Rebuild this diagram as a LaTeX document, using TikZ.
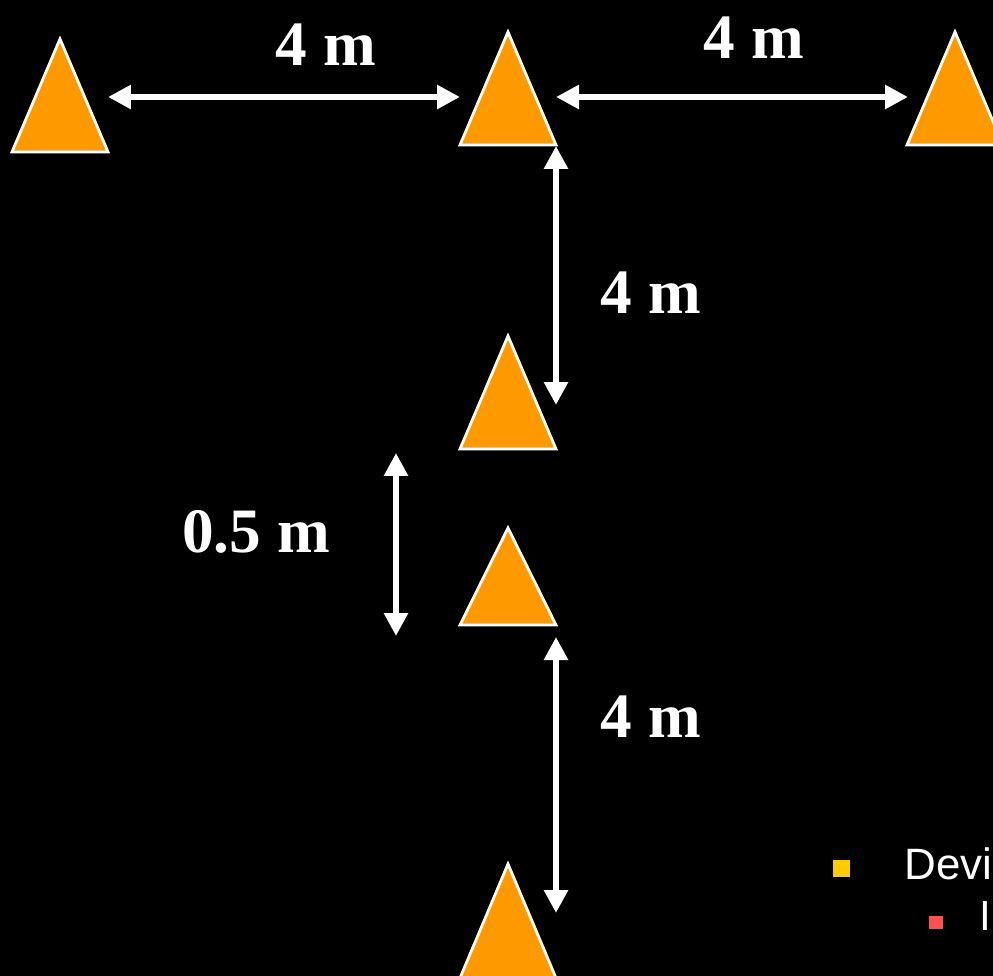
\documentclass[tikz,border=0pt]{standalone}
\usepackage{fontspec}
\setmainfont{Liberation Serif}
\setsansfont{Liberation Sans}
\usetikzlibrary{arrows.meta}
\definecolor{coneorange}{RGB}{255,153,0}
\definecolor{bulletyellow}{RGB}{255,204,0}
\definecolor{bulletred}{RGB}{255,80,80}

\tikzset{
  cone/.style={fill=coneorange,draw=white,line width=1.6pt,line join=miter},
  dist/.style={white,line width=0.12cm,{Triangle[length=0.46cm,width=0.46cm]}-{Triangle[length=0.46cm,width=0.46cm]}},
  len/.style={text=white,font=\bfseries\fontsize{36}{38}\selectfont,inner sep=0pt}
}

\begin{document}
\begin{tikzpicture}[x=0.02cm,y=-0.02cm]
  \useasboundingbox (0,0) rectangle (993,976);
  \fill[black] (0,0) rectangle (993,976);
  \clip (0,0) rectangle (993,976);
  % cones
  \draw[cone] (12,152) -- (60,39) -- (108,152) -- cycle;
  \draw[cone] (460,145) -- (508,32) -- (556,145) -- cycle;
  \draw[cone] (907,145) -- (955,32) -- (1003,145) -- cycle;
  \draw[cone] (460,449) -- (508,336) -- (556,449) -- cycle;
  \draw[cone] (460,625) -- (508,528) -- (556,625) -- cycle;
  \draw[cone] (460,978) -- (508,864) -- (556,978) -- cycle;
  % arrow ends
  \coordinate (h1a) at (108,97);
  \coordinate (h1b) at (460,97);
  \coordinate (h2a) at (556,97);
  \coordinate (h2b) at (908,97);
  \coordinate (v1a) at (556,146);
  \coordinate (v1b) at (556,405);
  \coordinate (v2a) at (396,453);
  \coordinate (v2b) at (396,636);
  \coordinate (v3a) at (556,637);
  \coordinate (v3b) at (556,913);
  \draw[dist] (h1a) -- (h1b);
  \draw[dist] (h2a) -- (h2b);
  \draw[dist] (v1a) -- (v1b);
  \draw[dist] (v2a) -- (v2b);
  \draw[dist] (v3a) -- (v3b);
  % lengths
  \node[len] (top1) at (326,45) {4 m};
  \node[len] (top2) at (754,38) {4 m};
  \node[len] (mid1) at (651,293) {4 m};
  \node[len] (gap) at (256,532) {0.5 m};
  \node[len] (mid2) at (651,717) {4 m};
  % bullets
  \fill[bulletyellow] (833,860) rectangle (850,877);
  \node[anchor=base west,inner sep=0pt,text=white,font=\sffamily\fontsize{25}{28}\selectfont] (dev) at (904,879) {Devi};
  \fill[bulletred] (929,916) rectangle (943,929);
  \node[anchor=base west,inner sep=0pt,text=white,font=\sffamily\fontsize{24}{27}\selectfont] (sub) at (979,930) {I};
\end{tikzpicture}
\end{document}
